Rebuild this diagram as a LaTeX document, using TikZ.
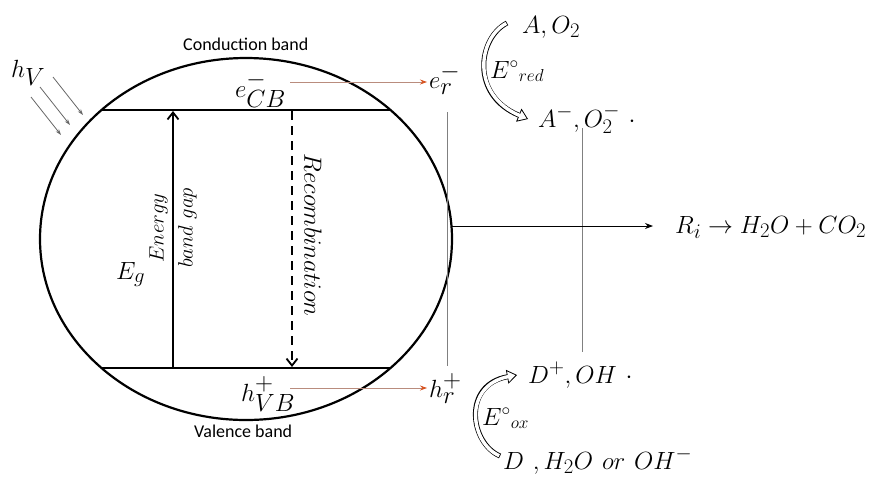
\documentclass[tikz,border=0pt]{standalone}
\usepackage{fontspec}
\newfontfamily\bandfont{Carlito}
\usetikzlibrary{arrows.meta}
\definecolor{transline}{RGB}{185,140,125}
\definecolor{transtip}{RGB}{215,85,35}

\begin{document}
\begin{tikzpicture}[x=1pt, y=-1pt,
		bigmath/.style={font=\fontsize{35}{40}\selectfont, inner sep=0pt},
		midmath/.style={font=\fontsize{29}{34}\selectfont, inner sep=0pt},
		bandlabel/.style={font=\bandfont\fontsize{18}{22}\selectfont, inner sep=0pt},
		slanted/.style={font=\fontsize{24}{29}\selectfont, inner sep=0pt, align=center},
		level/.style={line width=2pt},
		thinline/.style={draw=black!50, line width=0.8pt},
		ray/.style={draw=black!60, line width=0.8pt, -{Stealth[length=6pt,width=4pt]}},
		transfer/.style={draw=transline, line width=0.8pt, shorten >=2pt, -{Stealth[length=7pt,width=5pt,color=transtip]}},
		hollow/.style={line width=5pt, -{Triangle[open, fill=white, line width=0.8pt, length=10pt, width=14pt]}},
		hollowin/.style={white, line width=3.4pt, shorten >=8pt, shorten <=0.8pt}]

	\useasboundingbox (0,0) rectangle (893,480);

	% particle
	\draw[line width=2.2pt] (246,239) ellipse [x radius=206, y radius=181];

	\coordinate (cbL) at (102,110);
	\coordinate (cbR) at (390,110);
	\coordinate (vbL) at (102,368);
	\coordinate (vbR) at (390,368);
	\draw[level] (cbL) -- (cbR);
	\draw[level] (vbL) -- (vbR);

	% band labels
	\node[bandlabel, anchor=base west] (cond) at (183,50) {Conduction band};
	\node[bandlabel, anchor=base west] (val) at (194,437) {Valence band};

	\node[bigmath, anchor=base west] (hv) at (11,77) {$h_V$};
	\node[bigmath, font=\fontsize{32}{36}\selectfont, anchor=base west] (eg) at (116,279) {$E_g$};
	\node[bigmath, anchor=base west] (ecb) at (235,97) {$e^-_{CB}$};
	\node[bigmath, anchor=base west] (hvb) at (241,401) {$h^+_{VB}$};
	\node[bigmath, anchor=base west] (er) at (429,88) {$e^-_r$};
	\node[bigmath, anchor=base west] (hr) at (429,397) {$h^+_r$};

	% gap and recombination
	\coordinate (gapB) at (173,368);
	\coordinate (gapT) at (173,111);
	\coordinate (recT) at (292,111);
	\coordinate (recB) at (292,367);
	\draw[line width=1.8pt, -{Straight Barb[length=7pt,width=11pt]}] (gapB) -- (gapT);
	\draw[line width=1.8pt, dash pattern=on 9pt off 6pt, -{Straight Barb[length=7pt,width=11pt]}] (recT) -- (recB);
	\node[slanted, font=\fontsize{22}{29}\selectfont, rotate=90] (gap) at (173,228) {$Energy$\\$band\ gap$};
	\node[slanted, rotate=-90] (rec) at (313,235) {$Recombination$};

	% light
	\coordinate (r1a) at (53,77);
	\coordinate (r1b) at (83,115);
	\coordinate (r2a) at (40,87);
	\coordinate (r2b) at (70,125);
	\coordinate (r3a) at (31,97);
	\coordinate (r3b) at (61,135);
	\draw[ray] (r1a) -- (r1b);
	\draw[ray] (r2a) -- (r2b);
	\draw[ray] (r3a) -- (r3b);

	% charge transfer
	\coordinate (cbout) at (290,82);
	\coordinate (vbout) at (290,388);
	\draw[transfer] (cbout) -- (cbout -| er.west);
	\draw[transfer] (vbout) -- (vbout -| hr.west);

	\coordinate (sepT) at (447,112);
	\coordinate (sepB) at (447,366);
	\draw[thinline] (sepT) -- (sepB);
	\coordinate (midT) at (582,128);
	\coordinate (midB) at (582,352);
	\draw[thinline] (midT) -- (midB);

	\node[midmath, font=\fontsize{31}{36}\selectfont, anchor=base west] (ri) at (675,233) {$R_i \rightarrow H_2O + CO_2$};
	\coordinate (outL) at (452,226);
	\draw[line width=0.8pt, -{Stealth[length=8pt,width=6pt]}] (outL) -- ([xshift=-22pt]outL -| ri.west);

	% reduction side
	\node[midmath, anchor=base west] (acc) at (522,33) {$A, O_2$};
	\node[midmath, anchor=base west] (accm) at (538,127) {$A^{-}, O_2^{-}\ \cdot$};
	\node[midmath, font=\fontsize{27}{32}\selectfont, anchor=base west] (ered) at (490,78) {$E^{\circ}{}_{red}$};
	\draw[hollow] (507,23) .. controls (478,38) and (470,95) .. (528,119);
	\draw[hollowin] (507,23) .. controls (478,38) and (470,95) .. (528,119);

	% oxidation side
	\node[midmath, anchor=base west] (don) at (528,383) {$D^{+}, OH\ \cdot$};
	\node[midmath, anchor=base west] (water) at (503,469) {$D\ , H_2O\ or\ OH^{-}$};
	\node[midmath, font=\fontsize{27}{32}\selectfont, anchor=base west] (eox) at (482,425) {$E^{\circ}{}_{ox}$};
	\draw[hollow] (500,456) .. controls (470,443) and (462,385) .. (517,375);
	\draw[hollowin] (500,456) .. controls (470,443) and (462,385) .. (517,375);

\end{tikzpicture}
\end{document}
